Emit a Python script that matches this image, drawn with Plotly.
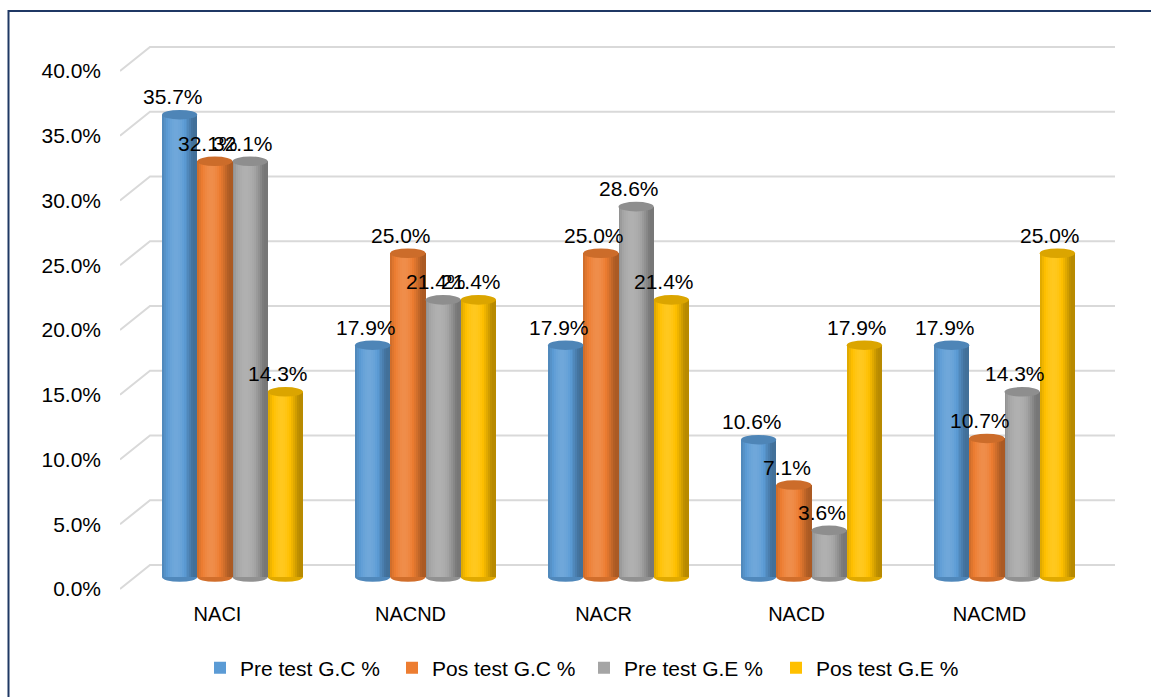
import math
import plotly.graph_objects as go

# ---- data -------------------------------------------------------------
categories = ["NACI", "NACND", "NACR", "NACD", "NACMD"]
series_names = ["Pre test G.C %", "Pos test G.C %", "Pre test G.E %", "Pos test G.E %"]
pre_test_gc = [35.7, 17.9, 17.9, 10.6, 17.9]
pos_test_gc = [32.1, 25.0, 25.0, 7.1, 10.7]
pre_test_ge = [32.1, 21.4, 28.6, 3.6, 14.3]
pos_test_ge = [14.3, 21.4, 21.4, 17.9, 25.0]
series_values = [pre_test_gc, pos_test_gc, pre_test_ge, pos_test_ge]
series_colors = ["#5B9BD5", "#ED7D31", "#A5A5A5", "#FFC000"]
y_ticks = [0, 5, 10, 15, 20, 25, 30, 35, 40]
y_tick_text = [f"{v:.1f}%" for v in y_ticks]

# ---- geometry (pixels) ------------------------------------------------
W, H = 1151, 697
PLOT_L, PLOT_R, PLOT_T, PLOT_B = 120, 1115, 44, 592
PX_X = 193.0          # pixels per category step
PX_Y = 12.95          # pixels per percentage point
CAT0 = 232.5          # pixel x of first category (middle depth)
ZERO_Y = 577          # pixel y of 0 % (middle depth)
x_range = [(PLOT_L - CAT0) / PX_X, (PLOT_R - CAT0) / PX_X]
y_range = [(ZERO_Y - PLOT_B) / PX_Y, (ZERO_Y - PLOT_T) / PX_Y]
half_depth_x = 15 / PX_X
half_depth_y = 12 / PX_Y

group_w = 141 / PX_X
bar_w = group_w / len(series_values)
cap_h = 4.8 / PX_Y
N_STRIPS = 18

positions = list(range(len(categories)))
FONT = "Liberation Sans, Arial, sans-serif"


def clamp(v):
    return max(0, min(255, int(round(v))))


def shade(hex_color, f):
    r, g, b = (int(hex_color[i:i + 2], 16) for i in (1, 3, 5))
    if f <= 1:
        r, g, b = r * f, g * f, b * f
    else:
        k = min(1.0, (f - 1) * 1.2)
        r, g, b = r + (255 - r) * k, g + (255 - g) * k, b + (255 - b) * k
    return "#{:02x}{:02x}{:02x}".format(clamp(r), clamp(g), clamp(b))


def cylinder_light(t):
    # lambert-like lighting across a cylinder lit from the front-left
    th = (t - 0.5) * math.pi
    diff = max(0.0, -0.35 * math.sin(th) + 0.94 * math.cos(th))
    return 0.72 + 0.38 * diff


fig = go.Figure()
shapes = []
annotations = []

# grid lines drawn on the floor edge and back wall
for v in y_ticks:
    x_front = x_range[0]
    x_back = x_range[0] + 2 * half_depth_x
    shapes.append(dict(
        type="path", xref="x", yref="y", layer="below",
        path=f"M{x_front},{v - half_depth_y} L{x_back},{v + half_depth_y} L{x_range[1]},{v + half_depth_y}",
        line=dict(color="#D9D9D9", width=2),
    ))

for s, (name, vals, color) in enumerate(zip(series_names, series_values, series_colors)):
    left = -group_w / 2 + s * bar_w
    fig.add_trace(go.Bar(
        x=positions, y=vals, name=name, offset=left, width=bar_w,
        marker=dict(color=color, line=dict(width=0)),
        hovertemplate="%{y:.1f}%<extra>" + name + "</extra>",
    ))
    sw = bar_w / N_STRIPS
    for k in range(N_STRIPS):
        t = (k + 0.5) / N_STRIPS
        w = min(sw * 1.4, bar_w - k * sw)
        fig.add_trace(go.Bar(
            x=positions, y=vals, offset=left + k * sw, width=w,
            marker=dict(color=shade(color, cylinder_light(t)), line=dict(width=0)),
            showlegend=False, hoverinfo="skip",
        ))
    for i, v in zip(positions, vals):
        x0, x1 = i + left, i + left + bar_w
        # rounded bottom of the cylinder
        shapes.append(dict(
            type="circle", xref="x", yref="y", layer="below",
            x0=x0, x1=x1, y0=-cap_h, y1=cap_h,
            fillcolor=shade(color, 0.88), line=dict(width=0),
        ))
        # cylinder top
        shapes.append(dict(
            type="circle", xref="x", yref="y", layer="above",
            x0=x0, x1=x1, y0=v - cap_h, y1=v + cap_h,
            fillcolor=shade(color, 0.86), line=dict(width=0),
        ))
        annotations.append(dict(
            x=(x0 + x1) / 2, y=v, xref="x", yref="y",
            text=f"{v:.1f}%", showarrow=False,
            xshift=-7, yshift=18,
            font=dict(family=FONT, size=21, color="#000000"),
        ))

# outer frame
shapes.append(dict(
    type="rect", xref="paper", yref="paper",
    x0=(8.5 - PLOT_L) / (PLOT_R - PLOT_L), x1=(W + 10 - PLOT_L) / (PLOT_R - PLOT_L),
    y0=(PLOT_B - (H + 10)) / (PLOT_B - PLOT_T), y1=(PLOT_B - 11) / (PLOT_B - PLOT_T),
    line=dict(color="#1F3864", width=2), fillcolor="rgba(0,0,0,0)", layer="above",
))

fig.update_layout(
    width=W, height=H,
    margin=dict(l=PLOT_L, r=W - PLOT_R, t=PLOT_T, b=H - PLOT_B, autoexpand=False),
    paper_bgcolor="white", plot_bgcolor="white",
    barmode="overlay", bargap=0,
    font=dict(family=FONT, size=20, color="#000000"),
    xaxis=dict(
        range=x_range, tickvals=positions, ticktext=categories,
        showgrid=False, zeroline=False, showline=False, ticks="",
        ticklabelshift=-15, ticklabelstandoff=8,
        tickfont=dict(family=FONT, size=20, color="#000000"),
    ),
    yaxis=dict(
        range=y_range, tickvals=y_ticks, ticktext=y_tick_text,
        showgrid=False, zeroline=False, showline=False, ticks="",
        ticklabelshift=12, ticklabelstandoff=18,
        tickfont=dict(family=FONT, size=21, color="#000000"),
    ),
    legend=dict(
        orientation="h", x=(200 - PLOT_L) / (PLOT_R - PLOT_L), xanchor="left",
        y=(PLOT_B - 668) / (PLOT_B - PLOT_T), yanchor="middle",
        entrywidth=147, entrywidthmode="pixels",
        font=dict(family=FONT, size=21, color="#000000"),
        bgcolor="rgba(0,0,0,0)",
    ),
    shapes=shapes,
    annotations=annotations,
)

fig.write_html("out.html")
